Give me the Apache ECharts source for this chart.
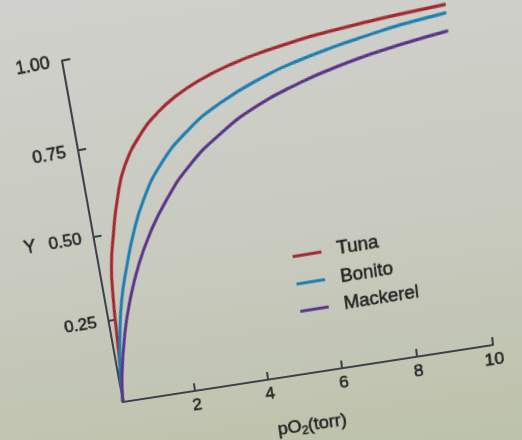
<!DOCTYPE html>
<html><head><meta charset="utf-8">
<script src="https://cdn.jsdelivr.net/npm/echarts@6/dist/echarts.min.js"></script>
<style>
html,body{margin:0;padding:0;width:522px;height:440px;overflow:hidden;
  background:linear-gradient(172deg,#d0d1cc 0%,#c9cbc1 50%,#bdc2aa 100%);}
#chart{position:absolute;left:0;top:0;width:522px;height:470px;transform-origin:0 0;}
</style></head><body><div id="chart"></div>
<script>
// ---- data ----
const seriesNames = ['Tuna', 'Bonito', 'Mackerel'];
const xTickValues = [0, 2, 4, 6, 8, 10];
const yTickValues = [0, 0.25, 0.5, 0.75, 1.0];

const tunaX = [0, 0.03, 0.09, 0.16, 0.23, 0.34, 0.54, 0.78, 1.14, 1.75, 2.18, 2.67, 3.37, 4.29, 5.18, 6.04, 6.89, 7.74, 8.56, 9.7];
const tunaY = [0, 0.05, 0.108, 0.21, 0.31, 0.41, 0.50, 0.59, 0.685, 0.772, 0.812, 0.846, 0.880, 0.909, 0.927, 0.940, 0.948, 0.954, 0.958, 0.962];

const bonitoX = [0, 0.08, 0.25, 0.45, 0.74, 1.06, 1.47, 2.04, 2.86, 3.83, 5.10, 5.97, 6.83, 7.69, 8.54, 9.69];
const bonitoY = [0, 0.10, 0.209, 0.305, 0.40, 0.49, 0.58, 0.668, 0.748, 0.810, 0.862, 0.886, 0.904, 0.918, 0.930, 0.940];

const mackerelX = [0, 0.1, 0.38, 0.67, 1.04, 1.50, 2.07, 2.81, 3.71, 4.76, 5.91, 6.80, 7.64, 8.49, 9.69];
const mackerelY = [0, 0.08, 0.206, 0.30, 0.394, 0.484, 0.57, 0.655, 0.726, 0.785, 0.826, 0.849, 0.866, 0.879, 0.892];

// ---- layout / style ----
const G = {left: 110, top: 40, width: 370, height: 340};
const colors = ['#a3282f', '#1d7fb2', '#5a3589'];
const txt = '#1f1f1f';
const axisCol = '#3a414b';
const font = '"Liberation Sans", Arial, sans-serif';
const heavy = {textBorderColor: txt, textBorderWidth: 0.5};

function pairs(xs, ys) { return xs.map((x, i) => [x, ys[i]]); }

const chart = echarts.init(document.getElementById('chart'), null, {renderer: 'canvas'});
chart.setOption({
  backgroundColor: 'transparent',
  animation: false,
  textStyle: {fontFamily: font},
  grid: {left: G.left, top: G.top, width: G.width, height: G.height, containLabel: false},
  legend: {
    orient: 'vertical', left: 294, top: 247, itemGap: 9,
    icon: 'rect', itemWidth: 28, itemHeight: 3,
    textStyle: Object.assign({fontFamily: font, fontSize: 18, color: txt, padding: [0, 0, 0, 10]}, heavy),
    data: seriesNames
  },
  xAxis: {
    type: 'value', min: xTickValues[0], max: xTickValues[xTickValues.length - 1], interval: 2,
    name: 'pO{sub|2}(torr)', nameLocation: 'middle', nameGap: 44,
    nameTextStyle: Object.assign({fontFamily: font, fontSize: 18, color: txt,
      rich: {sub: Object.assign({fontSize: 12, color: txt, verticalAlign: 'bottom', padding: [9, 0, 0, 0]}, heavy)}}, heavy),
    axisLine: {lineStyle: {color: axisCol, width: 2}},
    axisTick: {inside: true, length: 8, lineStyle: {color: axisCol, width: 2}},
    axisLabel: Object.assign({fontSize: 17, color: txt, margin: 7, formatter: v => v === 0 ? '' : String(v)}, heavy),
    splitLine: {show: false}
  },
  yAxis: {
    type: 'value', min: yTickValues[0], max: yTickValues[yTickValues.length - 1], interval: 0.25,
    name: 'Y', nameLocation: 'middle', nameGap: 58, nameRotate: 0,
    nameTextStyle: Object.assign({fontFamily: font, fontSize: 18, color: txt}, heavy),
    axisLine: {show: true, lineStyle: {color: axisCol, width: 2}},
    axisTick: {show: true, inside: true, length: 8, lineStyle: {color: axisCol, width: 2}},
    axisLabel: Object.assign({fontSize: 17, color: txt, margin: 12, formatter: v => v === 0 ? '' : v.toFixed(2)}, heavy),
    splitLine: {show: false}
  },
  series: [
    {name: seriesNames[0], type: 'line', data: pairs(tunaX, tunaY)},
    {name: seriesNames[1], type: 'line', data: pairs(bonitoX, bonitoY)},
    {name: seriesNames[2], type: 'line', data: pairs(mackerelX, mackerelY)}
  ].map((s, i) => Object.assign(s, {
    smooth: 0.5, showSymbol: false, symbol: 'none',
    color: colors[i], lineStyle: {color: colors[i], width: 3}
  }))
});

// ---- photo perspective: map the grid onto the tilted quadrilateral seen in the photo ----
(function () {
  const C = [123, 402], XE = [493, 345], YE = [62, 60.6];
  const g = -0.032, h = -0.065;
  const A = [(1 + g) * XE[0] - C[0], (1 + g) * XE[1] - C[1]];
  const B = [(1 + h) * YE[0] - C[0], (1 + h) * YE[1] - C[1]];
  const L = G.left, W = G.width, H = G.height, Y0 = G.top + G.height;
  const m11 = A[0] / W, m12 = -B[0] / H, m13 = -A[0] * L / W + B[0] * Y0 / H + C[0];
  const m21 = A[1] / W, m22 = -B[1] / H, m23 = -A[1] * L / W + B[1] * Y0 / H + C[1];
  const m31 = g / W, m32 = -h / H, m33 = 1 - g * L / W + h * Y0 / H;
  document.getElementById('chart').style.transform =
    `matrix3d(${m11},${m21},0,${m31},${m12},${m22},0,${m32},0,0,1,0,${m13},${m23},0,${m33})`;
})();
</script>
</body></html>
